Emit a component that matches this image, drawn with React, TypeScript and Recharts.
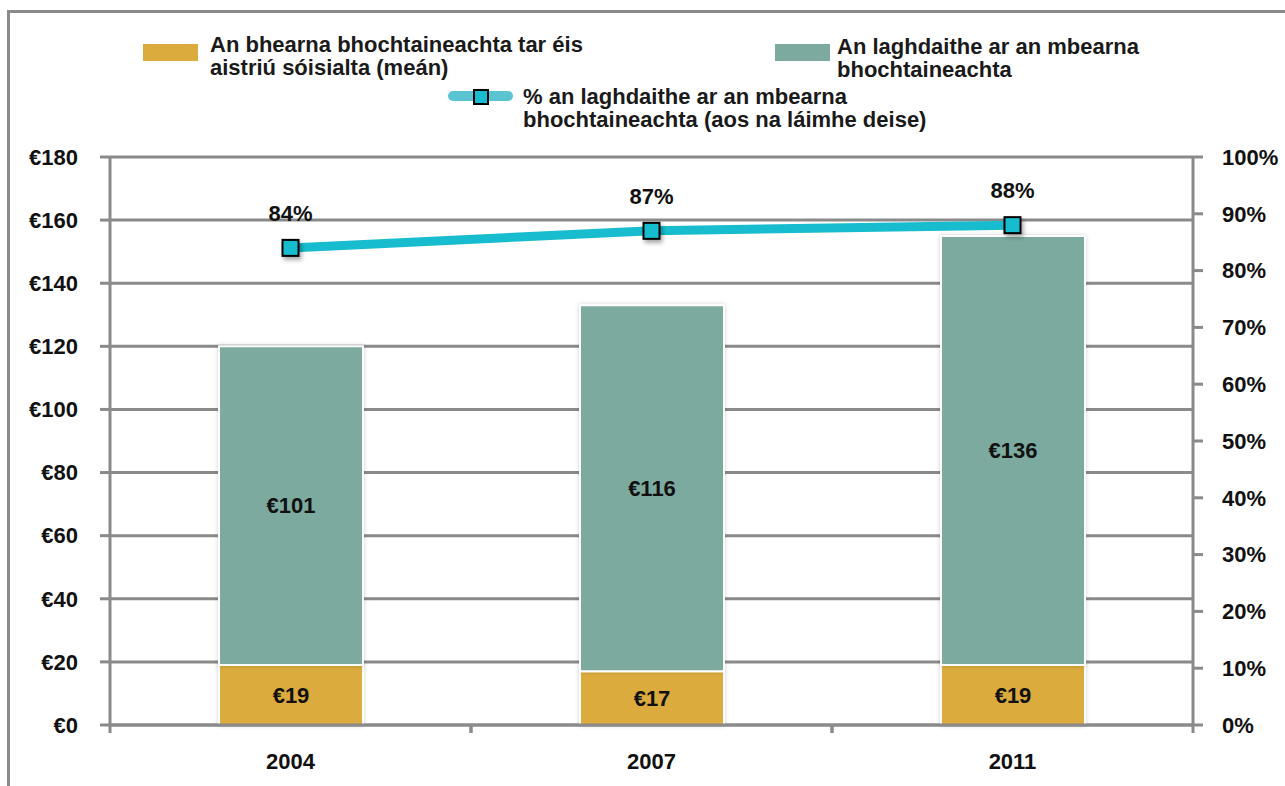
import React from 'react';
import { ComposedChart, Bar, Line, XAxis, YAxis, CartesianGrid, LabelList } from 'recharts';

const years = ['2004', '2007', '2011'];
const gapAfter = [19, 17, 19];
const reduction = [101, 116, 136];
const pctReduction = [84, 87, 88];
const euroTicks = [0, 20, 40, 60, 80, 100, 120, 140, 160, 180];
const pctTicks = [0, 10, 20, 30, 40, 50, 60, 70, 80, 90, 100];

const data = years.map((year, i) => ({
    year,
    gap: gapAfter[i],
    reduction: reduction[i],
    pct: pctReduction[i],
}));

const GOLD = '#DBAB3D';
const TEAL = '#7CAA9F';
const CYAN = '#17BDCE';
const GREY = '#8a8a8a';
const FONT = '"Liberation Sans", Arial, sans-serif';
const FS = 22;

const SquareDot = (props: any) => {
    const { cx, cy } = props;
    if (cx == null || cy == null) return null;
    return (
        <rect x={cx - 8} y={cy - 8} width={16} height={16} fill={CYAN} stroke="#000" strokeWidth={2} filter="url(#dotShadow)" />
    );
};

const YearTick = (props: any) => {
    const { x, y, payload } = props;
    const half = payload?.offset ?? 0;
    return (
        <g>
            <line x1={x - half} y1={y} x2={x - half} y2={y + 8} stroke={GREY} strokeWidth={3} />
            <line x1={x + half} y1={y} x2={x + half} y2={y + 8} stroke={GREY} strokeWidth={3} />
            <text x={x} y={y + 44} textAnchor="middle" fontFamily={FONT} fontWeight="bold" fontSize={FS} fill="#111">
                {payload.value}
            </text>
        </g>
    );
};

const legendText: React.CSSProperties = {
    position: 'absolute',
    fontFamily: FONT,
    fontWeight: 'bold',
    fontSize: FS,
    lineHeight: '23px',
    color: '#1a1a1a',
    whiteSpace: 'nowrap',
};

export default function App() {
    return (
        <div style={{ position: 'relative', width: 1285, height: 786, overflow: 'hidden', background: '#fff' }}>
            <style>{`body{margin:0}`}</style>
            <div style={{ position: 'absolute', left: 7, top: 10, width: 1400, height: 900, borderLeft: `3px solid ${GREY}`, borderTop: `3px solid ${GREY}` }} />

            {/* legend */}
            <div style={{ position: 'absolute', left: 143, top: 44, width: 55, height: 17, background: GOLD }} />
            <div style={{ ...legendText, left: 210, top: 33 }}>
                An bhearna bhochtaineachta tar éis<br />aistriú sóisialta (meán)
            </div>
            <div style={{ position: 'absolute', left: 775, top: 44, width: 55, height: 17, background: TEAL }} />
            <div style={{ ...legendText, left: 837, top: 35 }}>
                An laghdaithe ar an mbearna<br />bhochtaineachta
            </div>
            <div style={{ position: 'absolute', left: 448, top: 91, width: 65, height: 10, borderRadius: 5, background: '#5BC4D3' }} />
            <div style={{ position: 'absolute', left: 473, top: 89, width: 12, height: 12, background: CYAN, border: '2px solid #000' }} />
            <div style={{ ...legendText, left: 523, top: 85 }}>
                % an laghdaithe ar an mbearna<br />bhochtaineachta (aos na láimhe deise)
            </div>

            <div style={{ position: 'absolute', left: 0, top: 0 }}>
                <ComposedChart width={1285} height={786} data={data} margin={{ top: 157, right: 10, bottom: 11, left: 10 }}>
                    <defs>
                        <filter id="barShadow" x="-10%" y="-10%" width="120%" height="120%">
                            <feDropShadow dx={0} dy={0} stdDeviation={2} floodColor="#000" floodOpacity={0.18} />
                        </filter>
                        <filter id="dotShadow" x="-50%" y="-50%" width="200%" height="200%">
                            <feDropShadow dx={2} dy={3} stdDeviation={2} floodColor="#000" floodOpacity={0.35} />
                        </filter>
                    </defs>
                    <CartesianGrid yAxisId="left" vertical={false} stroke={GREY} strokeWidth={3} />
                    <XAxis
                        dataKey="year"
                        height={50}
                        axisLine={{ stroke: GREY, strokeWidth: 3 }}
                        tickLine={false}
                        tickSize={0}
                        tickMargin={0}
                        tick={<YearTick />}
                        interval={0}
                    />
                    <YAxis
                        yAxisId="left"
                        width={100}
                        domain={[0, 180]}
                        ticks={euroTicks}
                        interval={0}
                        tickFormatter={(v: number) => `€${v}`}
                        axisLine={{ stroke: GREY, strokeWidth: 3 }}
                        tickLine={{ stroke: GREY, strokeWidth: 3 }}
                        tickSize={10}
                        tickMargin={22}
                        tick={{ fill: '#111', fontSize: FS, fontWeight: 'bold', fontFamily: FONT }}
                    />
                    <YAxis
                        yAxisId="right"
                        orientation="right"
                        width={82}
                        domain={[0, 100]}
                        ticks={pctTicks}
                        interval={0}
                        tickFormatter={(v: number) => `${v}%`}
                        axisLine={{ stroke: GREY, strokeWidth: 3 }}
                        tickLine={{ stroke: GREY, strokeWidth: 3 }}
                        tickSize={10}
                        tickMargin={19}
                        tick={{ fill: '#111', fontSize: FS, fontWeight: 'bold', fontFamily: FONT, textAnchor: 'start' }}
                    />
                    <Bar yAxisId="left" dataKey="gap" stackId="a" fill={GOLD} stroke="#fff" strokeWidth={2} barSize={144} isAnimationActive={false} filter="url(#barShadow)">
                        <LabelList dataKey="gap" position="center" formatter={(v: any) => `€${v}`} fill="#111" fontSize={FS} fontWeight="bold" fontFamily={FONT} />
                    </Bar>
                    <Bar yAxisId="left" dataKey="reduction" stackId="a" fill={TEAL} stroke="#fff" strokeWidth={2} barSize={144} isAnimationActive={false} filter="url(#barShadow)">
                        <LabelList dataKey="reduction" position="center" formatter={(v: any) => `€${v}`} fill="#111" fontSize={FS} fontWeight="bold" fontFamily={FONT} />
                    </Bar>
                    <Line
                        yAxisId="right"
                        dataKey="pct"
                        stroke={CYAN}
                        strokeWidth={9}
                        dot={<SquareDot />}
                        activeDot={false}
                        isAnimationActive={false}
                    >
                        <LabelList dataKey="pct" position="top" offset={27} formatter={(v: any) => `${v}%`} fill="#111" fontSize={FS} fontWeight="bold" fontFamily={FONT} />
                    </Line>
                </ComposedChart>
            </div>
        </div>
    );
}
